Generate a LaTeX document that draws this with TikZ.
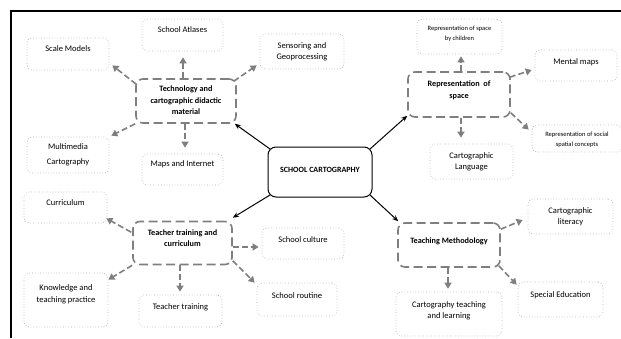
\documentclass[tikz,border=0pt]{standalone}
\usepackage{fontspec}
\setmainfont{Carlito}
\usetikzlibrary{arrows.meta}
\definecolor{boxgray}{HTML}{7F7F7F}
\definecolor{dotgray}{HTML}{B4B4B4}
\newcommand\tx[2][4]{\raisebox{#1pt}[\height][\depth]{\begin{tabular}{@{}c@{}}#2\end{tabular}}}
\begin{document}
\begin{tikzpicture}[x=1pt,y=-1pt,
  sub/.style={draw=dotgray, dotted, line width=0.7pt, rounded corners=5pt, inner sep=0pt,
    font=\fontsize{8.5}{11.5}\selectfont},
  subsmall/.style={sub, font=\fontsize{6.5}{10}\selectfont},
  topic/.style={draw=boxgray, line width=1.6pt, dash pattern=on 9pt off 4.5pt, rounded corners=7pt,
    inner sep=0pt, font=\bfseries\fontsize{8.2}{11.5}\selectfont},
  core/.style={draw=black, line width=1pt, rounded corners=8pt, inner sep=0pt,
    font=\bfseries\fontsize{8}{11}\selectfont},
  garrow/.style={draw=boxgray, line width=1.6pt, dash pattern=on 6pt off 3pt,
    -{Triangle[length=6pt,width=7pt]}},
  karrow/.style={draw=black, line width=1pt, -{Stealth[length=6pt,width=5pt]}}]
\useasboundingbox (0,0) rectangle (621,338);
\draw[line width=1.4pt] (11,338) -- (11,11) -- (621,11);

% central node
\node[core, minimum width=104pt, minimum height=50pt] (sc) at (320,172) {\tx[2]{SCHOOL CARTOGRAPHY}};

% topic nodes
\node[topic, minimum width=100pt, minimum height=44pt] (tech) at (186,101) {\tx[0]{Technology and\\cartographic didactic\\material}};
\node[topic, minimum width=102pt, minimum height=45pt] (rep) at (459,94.5) {\tx[4.5]{Representation\ \ of\\space}};
\node[topic, minimum width=99pt, minimum height=43pt] (tt) at (182.5,243) {\tx[4.5]{Teacher training and\\curriculum}};
\node[topic, minimum width=102pt, minimum height=44pt] (tm) at (449,245) {\tx[4]{Teaching Methodology}};

% sub nodes
\node[sub, minimum width=81pt, minimum height=32pt] (atlas) at (182.5,35) {\tx[5]{School Atlases}};
\node[sub, minimum width=82pt, minimum height=32pt] (scale) at (68,54) {\tx[5]{Scale Models}};
\node[sub, minimum width=84pt, minimum height=35pt] (sens) at (302,51.5) {\tx[0]{Sensoring and\\Geoprocessing}};
\node[sub, minimum width=82pt, minimum height=36pt] (multi) at (68,155) {\tx[0]{Multimedia\\[3.5pt]Cartography}};
\node[sub, minimum width=81pt, minimum height=31pt] (maps) at (182.5,169.5) {\tx[5]{Maps and Internet}};

\node[subsmall, minimum width=85pt, minimum height=35pt] (child) at (459.5,36.5) {\tx[3.5]{Representation of space\\by children}};
\node[sub, minimum width=82pt, minimum height=31pt] (mental) at (576,65.5) {\tx[3.5]{Mental maps}};
\node[subsmall, minimum width=90pt, minimum height=27pt] (social) at (577,138.5) {\tx[-1]{Representation of social\\spatial concepts}};
\node[sub, minimum width=83pt, minimum height=35pt] (lang) at (471.5,161.5) {\tx[0]{Cartographic\\Language}};

\node[sub, minimum width=83pt, minimum height=31pt] (curr) at (65.5,207.5) {\tx[4.5]{Curriculum}};
\node[sub, minimum width=84pt, minimum height=54pt] (know) at (66,300) {\tx[6]{Knowledge and\\teaching practice}};
\node[sub, minimum width=83pt, minimum height=32pt] (ttrain) at (180.5,311) {\tx[4]{Teacher training}};
\node[sub, minimum width=82pt, minimum height=31pt] (culture) at (303,243.5) {\tx[3.5]{School culture}};
\node[sub, minimum width=80pt, minimum height=33pt] (routine) at (297,299.5) {\tx[3.5]{School routine}};

\node[sub, minimum width=85pt, minimum height=35pt] (lit) at (570.5,216.5) {\tx[0]{Cartographic\\literacy}};
\node[sub, minimum width=85pt, minimum height=35pt] (special) at (560.5,299.5) {\tx[4.5]{Special Education}};
\node[sub, minimum width=106pt, minimum height=44pt] (ctl) at (449,314) {\tx[3.5]{Cartography teaching\\and learning}};

% black arrows
\draw[karrow] ([shift={(2.5,2.5)}]sc.north west) -- ([shift={(-2,0)}]tech.south east);
\draw[karrow] ([shift={(-2.5,2.5)}]sc.north east) -- ([shift={(0,-2)}]rep.south west);
\draw[karrow] ([shift={(2.5,-2.5)}]sc.south west) -- ([shift={(0,-3)}]tt.north east);
\draw[karrow] ([shift={(-2.5,-2.5)}]sc.south east) -- ([shift={(1,-1)}]tm.north west);

% technology
\draw[garrow] ([shift={(1,6)}]tech.north west) -- ([shift={(3,-5)}]scale.south east);
\draw[garrow] ([shift={(-3,0)}]tech.north) -- ([shift={(0.5,6)}]atlas.south);
\draw[garrow] ([shift={(-3,3)}]tech.north east) -- ([shift={(-3,-4)}]sens.south west);
\draw[garrow] (tech.south west) -- ([shift={(2,-1)}]multi.north east);
\draw[garrow] ([shift={(-1,0)}]tech.south) -- ([shift={(2.5,-6)}]maps.north);

% representation
\draw[garrow] ([shift={(2,0)}]rep.north) -- ([shift={(1.5,2)}]child.south);
\draw[garrow] ([shift={(-1,6)}]rep.north east) -- ([shift={(-3,4.5)}]mental.west);
\draw[garrow] ([shift={(0,-5)}]rep.south east) -- ([shift={(-3,5)}]social.north west);
\draw[garrow] ([shift={(2,0)}]rep.south) -- ([shift={(-10.5,-6)}]lang.north);

% teacher training
\draw[garrow] ([shift={(-1,11.5)}]tt.north west) -- ([shift={(-1,-5)}]curr.south east);
\draw[garrow] (tt.south west) -- ([shift={(0,7)}]know.north east);
\draw[garrow] ([shift={(-2.5,0)}]tt.south) -- ([shift={(-0.5,-3)}]ttrain.north);
\draw[garrow] ([shift={(0,4)}]tt.east) -- ([shift={(-3,3.5)}]culture.west);
\draw[garrow] ([shift={(0,-4.5)}]tt.south east) -- ([shift={(-2,0)}]routine.north west);

% teaching methodology
\draw[garrow] ([shift={(0,7)}]tm.north east) -- ([shift={(-5,3.5)}]lit.west);
\draw[garrow] ([shift={(-2,-2)}]tm.south east) -- ([shift={(-1,3)}]special.north west);
\draw[garrow] ([shift={(-1,0)}]tm.south) -- ([shift={(-1,-3)}]ctl.north);
\end{tikzpicture}
\end{document}
